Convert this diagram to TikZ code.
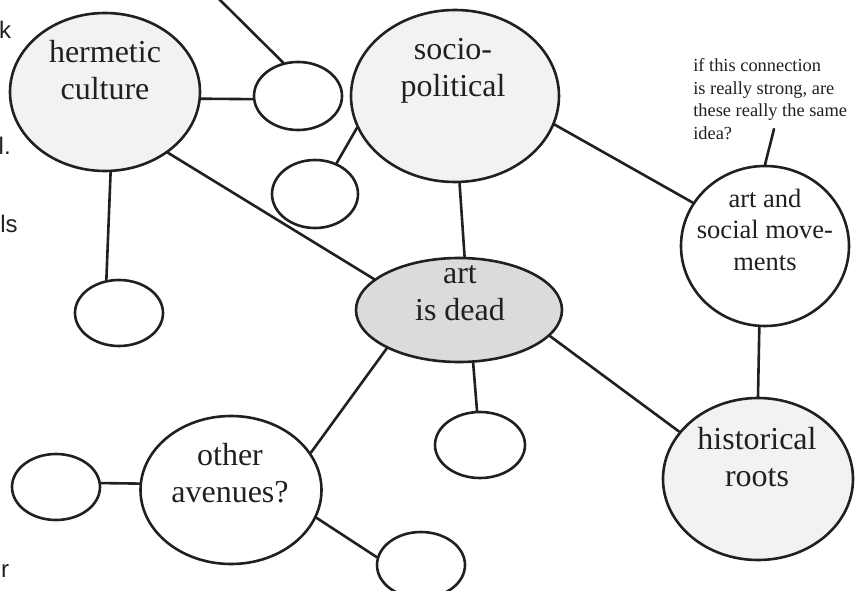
\documentclass[tikz,border=0pt]{standalone}
\usepackage{fontspec}
\setmainfont{Liberation Serif}
\newfontfamily\pagefont{Liberation Sans}
\usetikzlibrary{shapes.geometric}

\definecolor{inkline}{HTML}{231F20}
\definecolor{paleblob}{HTML}{F1F2F4}
\definecolor{deadblob}{HTML}{DADBDD}

\begin{document}
\begin{tikzpicture}[x=1pt, y=-1pt, color=inkline, line width=2.6pt, line cap=round, line join=round,
  blob/.style={ellipse, draw, inner sep=0pt},
  bigtxt/.style={align=center, inner sep=0pt, font=\fontsize{32}{37}\selectfont},
  notetxt/.style={align=left, inner sep=0pt, font=\fontsize{18.4}{22.6}\selectfont},
  cuttxt/.style={inner sep=0pt, anchor=base east, font=\pagefont\fontsize{24}{28}\selectfont}]

% page frame (pixel units, y runs down)
\useasboundingbox (0,0) rectangle (865,591);

% bits of the page text that the crop cuts off
\node[cuttxt] (cut-k)  at (12.5,39)  {k};
\node[cuttxt] (cut-l)  at (12,155)   {l.};
\node[cuttxt] (cut-ls) at (19,232)   {ls};
\node[cuttxt] (cut-r)  at (10.5,577) {r};

% bubbles with words
\node[blob, fill=paleblob, minimum width=190, minimum height=158] (herm)  at (105,92)  {};
\node[blob, fill=paleblob, minimum width=208, minimum height=172] (socio) at (455,96)  {};
\node[blob, fill=deadblob, minimum width=206, minimum height=104] (dead)  at (459,310) {};
\node[blob,                minimum width=168, minimum height=160] (move)  at (765,246) {};
\node[blob, fill=paleblob, minimum width=190, minimum height=162] (hist)  at (758,479) {};
\node[blob,                minimum width=181, minimum height=148] (other) at (231,490) {};

% empty bubbles
\node[blob, minimum width=88, minimum height=68] (s1) at (298,96)  {};
\node[blob, minimum width=86, minimum height=68] (s2) at (315,194) {};
\node[blob, minimum width=88, minimum height=66] (s3) at (119,313) {};
\node[blob, minimum width=90, minimum height=66] (s4) at (480,445) {};
\node[blob, minimum width=88, minimum height=66] (s5) at (56,487)  {};
\node[blob, minimum width=88, minimum height=66] (s6) at (421,565) {};

% words (set a little high in the bubbles)
\node[bigtxt] (herm-t)  at (105,70.5) {hermetic\\culture};
\node[bigtxt] (socio-t) at (453,71)   {socio-\\political};
\node[bigtxt] (dead-t)  at (460,293)  {art\\is dead};
\node[bigtxt, font=\fontsize{26.5}{31.5}\selectfont] (move-t) at (765,229.5) {art and\\social move-\\ments};
\node[bigtxt] (hist-t)  at (757,457)  {historical\\roots};
\node[bigtxt] (other-t) at (230,473)  {other\\avenues?};

% margin note
\node[notetxt, anchor=north west] (note) at (692,57.4) {if this connection\\is really strong, are\\these really the same\\idea?};

% loose ends
\coordinate (topend) at (217,-3);
\coordinate (tick)   at (774,129);

% links
\draw (topend)     -- (s1.114);
\draw (herm.-4)    -- (s1.184);
\draw (herm.-86)   -- (s3.111);
\draw (herm.-44)   -- (dead.160);
\draw (socio.198)  -- (s2.55);
\draw (socio.-87)  -- (dead.84);
\draw (socio.-16)  -- (move.149);
\draw (tick)       -- (move.north);
\draw (move.-94)   -- (hist.north);
\draw (dead.-16)   -- (hist.149);
\draw (dead.-75)   -- (s4.95);
\draw (dead.208)   -- (other.25);
\draw (s5.5)       -- (other.176);
\draw (other.-18)  -- (s6.170);

\end{tikzpicture}
\end{document}
